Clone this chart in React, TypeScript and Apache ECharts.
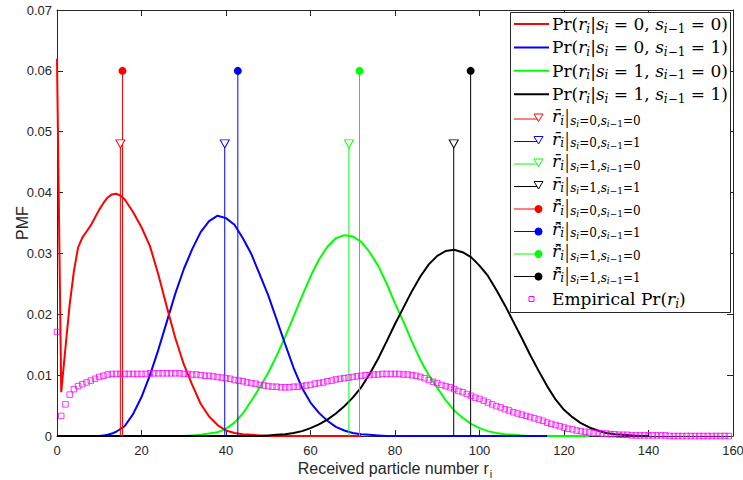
import { useEffect, useRef } from "react";
import * as echarts from "echarts";

// Conditional PMFs Pr(r_i | s_i, s_{i-1}) as [r, probability] pairs
const pmfS00: [number, number][] = [
  [0, 0.062], [1, 0.0072], [2, 0.0145], [3, 0.0216], [4, 0.0271], [5, 0.031], [6, 0.0326], [7, 0.0336],
  [8, 0.0346], [9, 0.0359], [10, 0.0372], [11, 0.0383], [12, 0.0392], [13, 0.0397], [14, 0.0398], [15, 0.0395],
  [16, 0.0389], [18, 0.0368], [20, 0.0343], [22, 0.0312], [24, 0.0265], [26, 0.0212], [28, 0.0161], [30, 0.0118],
  [32, 0.0084], [34, 0.0053], [36, 0.0032], [38, 0.0018], [40, 0.0009], [42, 0.0005], [44, 0.0003], [46, 0.0002],
  [48, 0.0001], [50, 0], [72, 0],
];
const pmfS01: [number, number][] = [
  [0, 0], [10, 0], [11, 0.0001], [12, 0.0002], [13, 0.0004], [14, 0.0007], [16, 0.0016], [18, 0.0036],
  [20, 0.0064], [22, 0.01], [24, 0.0142], [26, 0.0188], [28, 0.0234], [30, 0.0274], [32, 0.0307], [34, 0.0335],
  [36, 0.0353], [38, 0.0362], [40, 0.0358], [42, 0.0347], [44, 0.0325], [46, 0.0299], [48, 0.0265], [50, 0.0231],
  [52, 0.0191], [54, 0.0151], [56, 0.0112], [58, 0.0079], [60, 0.0055], [62, 0.0038], [64, 0.0025], [66, 0.0015],
  [68, 0.0009], [70, 0.0005], [72, 0.0003], [74, 0.0002], [76, 0.0001], [78, 0], [116, 0],
];
const pmfS10: [number, number][] = [
  [0, 0], [30, 0], [32, 0.0001], [34, 0.0002], [36, 0.0004], [38, 0.0006], [40, 0.0012], [42, 0.0022],
  [44, 0.0037], [46, 0.0058], [48, 0.008], [50, 0.0104], [52, 0.0132], [54, 0.0163], [56, 0.0196], [58, 0.023],
  [60, 0.0262], [62, 0.029], [64, 0.0311], [66, 0.0325], [68, 0.033], [70, 0.0328], [72, 0.0319], [74, 0.0302],
  [76, 0.028], [78, 0.0251], [80, 0.0218], [82, 0.0188], [84, 0.0155], [86, 0.0125], [88, 0.01], [90, 0.0079],
  [92, 0.0059], [94, 0.0042], [96, 0.003], [98, 0.002], [100, 0.0013], [102, 0.0008], [104, 0.0005], [106, 0.0003],
  [108, 0.0002], [110, 0.0001], [112, 0], [126, 0],
];
const pmfS11: [number, number][] = [
  [0, 0], [48, 0], [50, 0.0001], [52, 0.0002], [54, 0.0003], [56, 0.0005], [58, 0.0008], [60, 0.0013],
  [62, 0.0019], [64, 0.0027], [66, 0.0037], [68, 0.0049], [70, 0.0063], [72, 0.008], [74, 0.0102], [76, 0.0127],
  [78, 0.0155], [80, 0.0184], [82, 0.0211], [84, 0.0238], [86, 0.0262], [88, 0.0282], [90, 0.0296], [92, 0.0304],
  [94, 0.0306], [96, 0.0302], [98, 0.0294], [100, 0.028], [102, 0.0263], [104, 0.024], [106, 0.0215], [108, 0.0188],
  [110, 0.0161], [112, 0.0133], [114, 0.0107], [116, 0.0082], [118, 0.006], [120, 0.0043], [122, 0.0031], [124, 0.0021],
  [126, 0.0014], [128, 0.0009], [130, 0.0005], [132, 0.0003], [134, 0.0002], [136, 0.0001], [138, 0], [140, 0],
];

// Mean received number (triangles) and estimate (dots) per state pair
const rBarValues = [15.0, 39.7, 69.1, 93.9];
const rBarStemHeight = 0.048;
const rHatValues = [15.5, 42.8, 71.6, 97.9];
const rHatStemHeight = 0.06;

// Empirical Pr(r_i) for r_i = 0, 1, 2, ...
const empiricalPmf = [
  0.0171, 0.0033, 0.0052, 0.0068, 0.0077, 0.0082, 0.0085, 0.0088, 0.0091, 0.0094,
  0.0097, 0.0099, 0.0101, 0.0102, 0.0102, 0.0102, 0.0102, 0.0102, 0.0102, 0.0102,
  0.0102, 0.0102, 0.0103, 0.0103, 0.0103, 0.0103, 0.0103, 0.0103, 0.0103, 0.0103,
  0.0102, 0.0102, 0.0101, 0.0101, 0.01, 0.0099, 0.0099, 0.0098, 0.0097, 0.0096,
  0.0095, 0.0094, 0.0092, 0.0091, 0.009, 0.0088, 0.0087, 0.0086, 0.0084, 0.0083,
  0.0082, 0.0081, 0.0081, 0.008, 0.008, 0.008, 0.0081, 0.0081, 0.0082, 0.0083,
  0.0084, 0.0086, 0.0087, 0.0088, 0.009, 0.0091, 0.0093, 0.0094, 0.0095, 0.0096,
  0.0097, 0.0098, 0.0099, 0.01, 0.01, 0.0101, 0.0101, 0.0102, 0.0102, 0.0102,
  0.0102, 0.0102, 0.0101, 0.0101, 0.01, 0.0099, 0.0097, 0.0095, 0.0092, 0.0089,
  0.0087, 0.0084, 0.0082, 0.008, 0.0077, 0.0074, 0.0072, 0.0069, 0.0066, 0.0063,
  0.0061, 0.0058, 0.0055, 0.0052, 0.0049, 0.0047, 0.0044, 0.0042, 0.0039, 0.0037,
  0.0035, 0.0033, 0.0031, 0.0029, 0.0027, 0.0025, 0.0022, 0.002, 0.0018, 0.0016,
  0.0014, 0.0012, 0.0011, 0.0009, 0.0008, 0.0007, 0.0006, 0.0005, 0.0005, 0.0004,
  0.0004, 0.0003, 0.0003, 0.0002, 0.0002, 0.0002, 0.0001, 0.0001, 0.0001, 0.0001,
  0.0001, 0.0001, 0.0001, 0.0001, 0.0001, 0, 0, 0, 0, 0,
  0, 0, 0, 0, 0, 0, 0, 0, 0, 0,
];

const stateColors = ["#FF0000", "#0000FF", "#00FF00", "#000000"];
const statePairs = [["0", "0"], ["0", "1"], ["1", "0"], ["1", "1"]];
const curveZ = [4, 3, 2, 5];
const pmfCurves = [pmfS00, pmfS01, pmfS10, pmfS11];

const axisColor = "#262626";
const sans = "Liberation Sans";
const serif = "DejaVu Serif";

const richStyles = {
  rm: { fontFamily: serif, fontSize: 17, fill: "#000" },
  it: { fontFamily: serif, fontSize: 17, fontStyle: "italic", fill: "#000" },
  sb: { fontFamily: serif, fontSize: 12, fontStyle: "italic", fill: "#000", padding: [9, 0, 0, 0] },
  sbr: { fontFamily: serif, fontSize: 12, fill: "#000", padding: [9, 0, 0, 0] },
  bar: { fontFamily: "Liberation Serif", fontSize: 21, fill: "#000", padding: [0, 1, 0, 1] },
  s1: { fontFamily: serif, fontSize: 12, fontStyle: "italic", fill: "#000", padding: [9, 0, 0, 0] },
  s1r: { fontFamily: serif, fontSize: 12, fill: "#000", padding: [9, 0, 0, 0] },
  s2: { fontFamily: serif, fontSize: 9, fontStyle: "italic", fill: "#000", padding: [15, 0, 0, 0] },
  s2r: { fontFamily: serif, fontSize: 9, fill: "#000", padding: [15, 0, 0, 0] },
};

function prLabel(a: string, b: string) {
  return `{rm|Pr(}{it|r}{sb|i}{rm||}{it|s}{sb|i}{rm| = ${a}, }{it|s}{sb|i}{sbr|−1}{rm| = ${b})}`;
}
function condLabel(mark: string, a: string, b: string) {
  return `{it|${mark}}{sb|i}{bar||}{s1|s}{s2|i}{s1r|=${a},}{s1|s}{s2|i}{s2r|−1}{s1r|=${b}}`;
}

function legendElements() {
  const els: any[] = [];
  const z = 100;
  els.push({
    type: "rect", z, silent: true,
    shape: { x: 510.5, y: 12.5, width: 220, height: 300 },
    style: { fill: "#fff", stroke: axisColor, lineWidth: 1 },
  });
  const textX = 552;
  stateColors.forEach((c, k) => {
    const y = 24 + 23.4 * k;
    els.push({ type: "line", z, silent: true, shape: { x1: 514, y1: y, x2: 549, y2: y }, style: { stroke: c, lineWidth: 2 } });
    els.push({
      type: "text", z, silent: true, x: textX, y,
      style: { text: prLabel(statePairs[k][0], statePairs[k][1]), rich: richStyles, verticalAlign: "middle", align: "left" },
    });
  });
  const rowY = (k: number) => 119 + 22.5 * k;
  stateColors.forEach((c, k) => {
    const y = rowY(k);
    els.push({ type: "line", z, silent: true, shape: { x1: 514, y1: y, x2: 538, y2: y }, style: { stroke: c, lineWidth: 1 } });
    els.push({
      type: "polygon", z: z + 1, silent: true,
      shape: { points: [[534, y - 5], [543, y - 5], [538.5, y + 2.5]] },
      style: { fill: "#fff", stroke: c, lineWidth: 1 },
    });
    els.push({
      type: "text", z, silent: true, x: textX, y: y - 3,
      style: { text: condLabel("r\u0304", statePairs[k][0], statePairs[k][1]), rich: richStyles, verticalAlign: "middle", align: "left" },
    });
  });
  stateColors.forEach((c, k) => {
    const y = rowY(k + 4);
    els.push({ type: "line", z, silent: true, shape: { x1: 514, y1: y, x2: 538, y2: y }, style: { stroke: c, lineWidth: 1 } });
    els.push({ type: "circle", z: z + 1, silent: true, shape: { cx: 538.5, cy: y, r: 4 }, style: { fill: c } });
    els.push({
      type: "text", z, silent: true, x: textX, y: y - 3,
      style: { text: condLabel("r\u0304\u0302", statePairs[k][0], statePairs[k][1]), rich: richStyles, verticalAlign: "middle", align: "left" },
    });
  });
  const ys = rowY(8);
  els.push({
    type: "rect", z, silent: true,
    shape: { x: 529, y: ys - 2.5, width: 5, height: 5 },
    style: { fill: "none", stroke: "#FF00FF", lineWidth: 1 },
  });
  els.push({
    type: "text", z, silent: true, x: textX, y: ys,
    style: { text: "{rm|Empirical Pr(}{it|r}{sb|i}{rm|)}", rich: richStyles, verticalAlign: "middle", align: "left" },
  });
  return els;
}

function stemSeries(xs: number[], height: number, kind: "triangle" | "circle") {
  return xs.map((x, k) => ({
    type: "line",
    name: `${kind}-${k}`,
    z: 6,
    color: stateColors[k],
    data: [
      { value: [x, 0], symbol: "none" },
      {
        value: [x, height],
        symbol: kind,
        symbolRotate: kind === "triangle" ? 180 : 0,
        symbolSize: kind === "triangle" ? [9, 8] : 8,
        itemStyle:
          kind === "triangle"
            ? { color: "#fff", borderColor: stateColors[k], borderWidth: 1 }
            : { color: stateColors[k], borderWidth: 0 },
      },
    ],
    showAllSymbol: true,
    lineStyle: { color: stateColors[k], width: 1, opacity: 1 },
    itemStyle: { color: stateColors[k] },
    emphasis: { disabled: true },
  }));
}

export default function App() {
  const ref = useRef<HTMLDivElement>(null);
  useEffect(() => {
    document.body.style.margin = "0";
    if (!ref.current) return;
    const chart = echarts.init(ref.current, undefined, { renderer: "svg" });
    const baseX = {
      type: "value", min: 0, max: 160, interval: 20,
      axisLine: { show: true, onZero: false, lineStyle: { color: axisColor, width: 1 } },
      axisTick: { show: true, inside: true, length: 6, lineStyle: { color: axisColor } },
      splitLine: { show: false },
    };
    const baseY = {
      type: "value", min: 0, max: 0.07, interval: 0.01,
      axisLine: { show: true, onZero: false, lineStyle: { color: axisColor, width: 1 } },
      axisTick: { show: true, inside: true, length: 6, lineStyle: { color: axisColor } },
      splitLine: { show: false },
    };
    chart.setOption({
      animation: false,
      backgroundColor: "#fff",
      grid: { left: 57, right: 10, top: 10, bottom: 44, containLabel: false, outerBoundsMode: "none" },
      xAxis: [
        {
          ...baseX, position: "bottom",
          axisLabel: { color: axisColor, fontSize: 13, fontFamily: sans, margin: 8 },
          name: "{a|Received particle number r}{b|i}",
          nameLocation: "middle", nameGap: 21, nameMoveOverlap: false,
          nameTextStyle: {
            rich: {
              a: { fontSize: 16, fontFamily: sans, color: axisColor },
              b: { fontSize: 11, fontFamily: sans, color: axisColor, padding: [11, 0, 0, 1] },
            },
          },
        },
        { ...baseX, position: "top", axisLabel: { show: false } },
      ],
      yAxis: [
        {
          ...baseY, position: "left",
          axisLabel: {
            color: axisColor, fontSize: 13, fontFamily: sans, margin: 5,
            formatter: (v: number) => (Math.abs(v) < 1e-9 ? "0" : v.toFixed(2)),
          },
          name: "PMF", nameLocation: "middle", nameGap: 27, nameMoveOverlap: false,
          nameTextStyle: { fontSize: 16, fontFamily: sans, color: axisColor },
        },
        { ...baseY, position: "right", axisLabel: { show: false } },
      ],
      series: [
        ...pmfCurves.map((pts, k) => ({
          type: "line",
          name: `pmf-${k}`,
          data: pts,
          symbol: "none",
          z: curveZ[k],
          lineStyle: { color: stateColors[k], width: 2 },
        })),
        ...stemSeries(rBarValues, rBarStemHeight, "triangle"),
        ...stemSeries(rHatValues, rHatStemHeight, "circle"),
        {
          type: "scatter",
          name: "empirical",
          z: 7,
          data: empiricalPmf.map((v, r) => [r, v]),
          symbol: "rect",
          symbolSize: 5.5,
          itemStyle: { color: "rgba(255,255,255,0)", borderColor: "#FF00FF", borderWidth: 1 },
        },
      ],
      graphic: legendElements(),
    });
    return () => chart.dispose();
  }, []);
  return (
    <div
      ref={ref}
      style={{ position: "fixed", left: 0, top: 0, width: 743, height: 480, background: "#fff" }}
    />
  );
}
